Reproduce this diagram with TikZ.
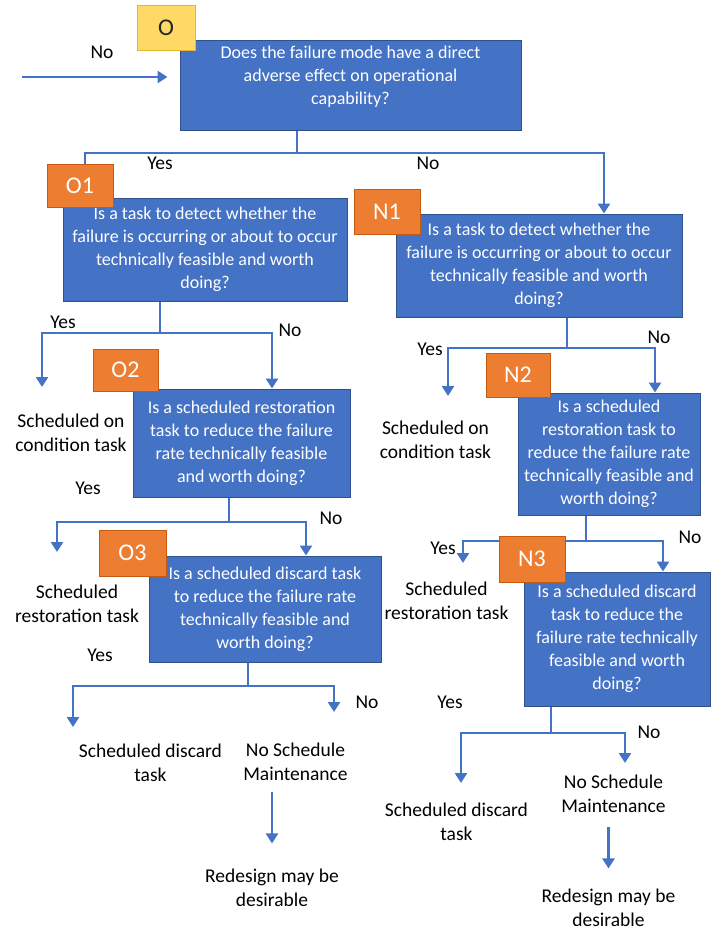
\documentclass[tikz,border=0pt]{standalone}
\usepackage{fontspec}
\setmainfont{Carlito}
\usetikzlibrary{arrows.meta}
\definecolor{qblue}{HTML}{4472C4}
\definecolor{qedge}{HTML}{2F528F}
\definecolor{qorange}{HTML}{ED7D31}
\definecolor{qorangeedge}{HTML}{C55A11}
\definecolor{qyellow}{HTML}{FFD966}
\definecolor{qyellowedge}{HTML}{E8B530}
\newcommand{\boxfont}{\fontsize{18}{23}\selectfont}
\newcommand{\notefont}{\fontsize{19.5}{24}\selectfont}
\newcommand{\tagfont}{\fontsize{24}{28}\selectfont}
\tikzset{
  qbox/.style={draw=qedge, fill=qblue, line width=1pt, text=white,
    align=center, inner sep=0pt, font=\boxfont},
  tagbox/.style={draw=qorangeedge, fill=qorange, line width=1pt, text=white,
    inner sep=0pt, font=\tagfont},
  toptag/.style={tagbox, draw=qyellowedge, fill=qyellow, text=black!85},
  note/.style={align=center, font=\notefont, text=black, inner sep=0pt},
  answer/.style={font=\notefont, text=black, inner sep=0pt},
  link/.style={draw=qblue, line width=2.6pt},
  arr/.style={link, -{Triangle[width=12pt,length=10pt]}},
}
\begin{document}
\begin{tikzpicture}[x=1pt,y=-1pt]
\useasboundingbox (0,0) rectangle (712,930);

% ---------- branch junctions and free arrow ends ----------
\coordinate (entry) at (22,77);
\coordinate (oj) at (297,153);
\coordinate (o1j) at (160,333);
\coordinate (o1tip) at (42,387);
\coordinate (n1j) at (567,348);
\coordinate (n1tip) at (448,396);
\coordinate (o2j) at (229,522);
\coordinate (o2tip) at (57,552);
\coordinate (n2j) at (586,541);
\coordinate (n2tip) at (463,563);
\coordinate (o3j) at (248,686);
\coordinate (o3tipY) at (73,727);
\coordinate (o3tipN) at (334,712);
\coordinate (n3j) at (551,733);
\coordinate (n3tipY) at (461,783);
\coordinate (n3tipN) at (625,763);

% ---------- question boxes ----------
\node[qbox, minimum width=341pt, minimum height=90pt, text depth=20pt] (o) at (350.5,85)
  {Does the failure mode have a direct\\adverse effect on operational\\capability?};
\node[qbox, minimum width=284pt, minimum height=103pt] (o1) at (205,249.5)
  {Is a task to detect whether the\\failure is occurring or about to occur\\technically feasible and worth\\doing?};
\node[qbox, minimum width=286pt, minimum height=103pt] (n1) at (539,265.5)
  {Is a task to detect whether the\\failure is occurring or about to occur\\technically feasible and worth\\doing?};
\node[qbox, minimum width=217pt, minimum height=108pt] (o2) at (241.5,443)
  {Is a scheduled restoration\\task to reduce the failure\\rate technically feasible\\and worth doing?};
\node[qbox, minimum width=182pt, minimum height=122pt] (n2) at (609,454)
  {Is a scheduled\\restoration task to\\reduce the failure rate\\technically feasible and\\worth doing?};
\node[qbox, minimum width=232pt, minimum height=106pt] (o3) at (265,609)
  {Is a scheduled discard task\\to reduce the failure rate\\technically feasible and\\worth doing?};
\node[qbox, minimum width=186pt, minimum height=134pt] (n3) at (617,639)
  {Is a scheduled discard\\task to reduce the\\failure rate technically\\feasible and worth\\doing?};

% ---------- outcome notes ----------
\node[note] (o1yes) at (71,433) {Scheduled on\\condition task};
\node[note] (n1yes) at (435.5,440) {Scheduled on\\condition task};
\node[note] (o2yes) at (77,604) {Scheduled\\restoration task};
\node[note] (n2yes) at (446.5,600.5) {Scheduled\\restoration task};
\node[note] (o3yes) at (150.5,763) {Scheduled discard\\task};
\node[note] (o3no) at (295.5,762) {No Schedule\\Maintenance};
\node[note] (o3redesign) at (272,887.5) {Redesign may be\\desirable};
\node[note] (n3yes) at (456.5,821.5) {Scheduled discard\\task};
\node[note] (n3no) at (613.5,794) {No Schedule\\Maintenance};
\node[note] (n3redesign) at (608.5,907.5) {Redesign may be\\desirable};

% ---------- connectors ----------
\draw[arr, shorten >=12pt] (entry) -- (entry -| o.west);
\draw[link] (o.south -| oj) -- (oj);
\draw[link] (oj) -| (85,166);
\draw[arr] (oj) -| (n1.north -| 604,0);

\draw[link] (o1.south -| o1j) -- (o1j);
\draw[arr] (o1j) -| (o1tip);
\draw[arr] (o1j) -| (o2.north -| 272,0);

\draw[link] (n1.south -| n1j) -- (n1j);
\draw[arr] (n1j) -| (n1tip);
\draw[arr] (n1j) -| (n2.north -| 655,0);

\draw[link] (o2.south -| o2j) -- (o2j);
\draw[arr] (o2j) -| (o2tip);
\draw[arr] (o2j) -| (o3.north -| 306,0);

\draw[link] (n2.south -| n2j) -- (n2j);
\draw[arr] (n2j) -| (n2tip);
\draw[arr] (n2j) -| (n3.north -| 663,0);

\draw[link] (o3.south -| o3j) -- (o3j);
\draw[arr] (o3j) -| (o3tipY);
\draw[arr] (o3j) -| (o3tipN);

\draw[link] (n3.south -| n3j) -- (n3j);
\draw[arr] (n3j) -| (n3tipY);
\draw[arr] (n3j) -| (n3tipN);

\draw[arr, shorten <=11pt, shorten >=25pt] (o3no.south -| o3redesign.north) -- (o3redesign.north);
\draw[arr, shorten <=14pt, shorten >=20pt] (n3no.south -| n3redesign.north) -- (n3redesign.north);

% ---------- step tags, on top of boxes and lines ----------
\node[toptag, minimum width=58pt, minimum height=45pt] (otag) at (166,27.5) {O};
\node[tagbox, minimum width=66pt, minimum height=43pt] (o1tag) at (80,186) {O1};
\node[tagbox, minimum width=66pt, minimum height=45pt] (n1tag) at (387,211.5) {N1};
\node[tagbox, minimum width=65pt, minimum height=42pt] (o2tag) at (125.5,370) {O2};
\node[tagbox, minimum width=64pt, minimum height=44pt] (n2tag) at (518,375) {N2};
\node[tagbox, minimum width=67pt, minimum height=46pt] (o3tag) at (132.5,553) {O3};
\node[tagbox, minimum width=66pt, minimum height=46pt] (n3tag) at (532,559) {N3};

% ---------- answer labels ----------
\node[answer] (a0) at (102,52) {No};
\node[answer] (a1) at (160,163) {Yes};
\node[answer] (a2) at (428,163) {No};
\node[answer] (a3) at (63,322) {Yes};
\node[answer] (a4) at (290,330) {No};
\node[answer] (a5) at (88,488) {Yes};
\node[answer] (a6) at (331,518) {No};
\node[answer] (a7) at (100,655) {Yes};
\node[answer] (a8) at (367,702) {No};
\node[answer] (a9) at (430,349) {Yes};
\node[answer] (a10) at (659,337) {No};
\node[answer] (a11) at (443,548) {Yes};
\node[answer] (a12) at (690,537) {No};
\node[answer] (a13) at (450,702) {Yes};
\node[answer] (a14) at (649,732) {No};
\end{tikzpicture}
\end{document}
